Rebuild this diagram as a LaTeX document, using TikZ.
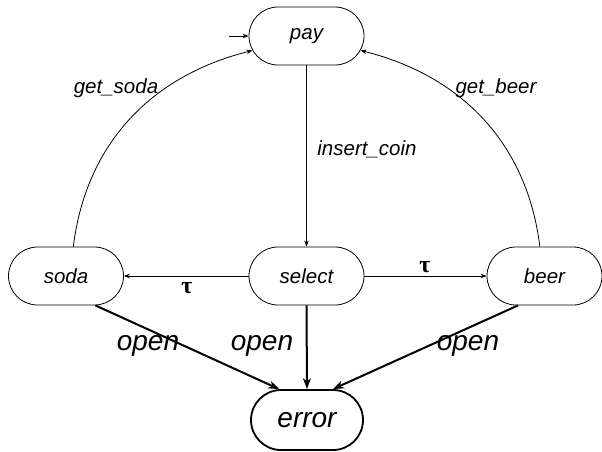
\documentclass[tikz,border=0pt]{standalone}
\usepackage{fontspec}
\setmainfont{Liberation Sans}
\newfontfamily\greekfont{Liberation Serif}
\usetikzlibrary{shapes.misc,arrows.meta}
\tikzset{
  state/.style={rounded rectangle, draw, line width=0.8pt,
    minimum width=115pt, minimum height=58pt, inner sep=0pt,
    font=\fontsize{20.5}{24}\selectfont\itshape},
  badstate/.style={state, line width=1.8pt, minimum width=112pt,
    minimum height=60pt, font=\fontsize{28}{32}\selectfont\itshape},
  thin/.style={line width=0.8pt, -{Stealth[length=6pt,width=4.5pt]}},
  thick/.style={line width=2pt, -{Stealth[length=11pt,width=8pt]}},
  lbl/.style={anchor=base, inner sep=0pt, font=\fontsize{20.5}{24}\selectfont\itshape},
  biglbl/.style={anchor=base, inner sep=0pt, font=\fontsize{28}{32}\selectfont\itshape},
  taulbl/.style={anchor=base, inner sep=0pt, font=\fontsize{24}{28}\selectfont\greekfont\bfseries}
}
\begin{document}
\begin{tikzpicture}[x=1pt,y=1pt]
  \useasboundingbox (0,0) rectangle (602,451);

  % states
  \node[state] (pay) at (306.5,415) {pay};
  \node[state] (soda) at (66,175) {soda};
  \node[state] (select) at (306.5,175) {select};
  \node[state] (beer) at (544.5,175) {beer};
  \node[badstate] (error) at (307,31) {error};

  % initial marker
  \coordinate (init) at (229,415);
  \draw[thin] (init) -- (pay.west);

  % transitions
  \draw[thin] (pay.south) -- (select.north);
  \draw[thin] (select.west) -- (soda.east);
  \draw[thin] (select.east) -- (beer.west);
  \draw[thin] (soda.76) to[out=83,in=194] (pay.195);
  \draw[thin] (beer.99) to[out=97,in=346] (pay.345);

  \draw[thick] (soda.-45) -- (error.132);
  \draw[thick] (select.south) -- (error.north);
  \draw[thick] (beer.228) -- (error.50);

  % labels
  \node[lbl] (lgs) at (116,358) {get\_soda};
  \node[lbl] (lgb) at (496,358) {get\_beer};
  \node[lbl] (lic) at (367,296) {insert\_coin};
  \node[taulbl] (lt1) at (187,158) {τ};
  \node[taulbl] (lt2) at (425,179) {τ};
  \node[biglbl] (lo1) at (148,101) {open};
  \node[biglbl] (lo2) at (262,101) {open};
  \node[biglbl] (lo3) at (468,101) {open};
\end{tikzpicture}
\end{document}
